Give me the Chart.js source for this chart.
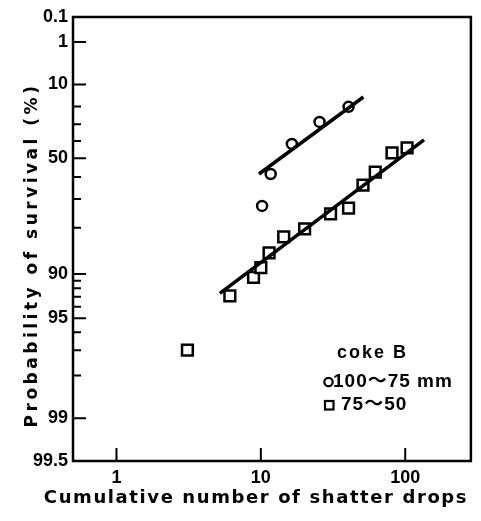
<!DOCTYPE html>
<html>
<head>
<meta charset="utf-8">
<script src="https://cdn.jsdelivr.net/npm/chart.js@4.4.1/dist/chart.umd.min.js"></script>
<style>
  html, body { margin: 0; padding: 0; background: #fff; }
  #wrap { width: 481px; height: 521px; position: relative; }
</style>
</head>
<body>
<div id="wrap"><canvas id="grafico"></canvas></div>
<script>
// eixo y (probabilidade de sobrevivencia, %)
const yMajor = [0.1, 1, 10, 50, 90, 95, 99, 99.5];
const yMinor = [20, 30, 40, 60, 70, 80, 91, 92, 93, 94, 96, 97, 98];
// eixo x (numero acumulado de quedas)
const xMajor = [1, 10, 100];

// coke B, 100~75 mm (circulos)
const largeDrops = [10.2, 11.7, 16.4, 25.5, 40.5];
const largeSurv = [72.7, 58.5, 41.7, 28.6, 20.2];
// coke B, 75~50 mm (quadrados)
const smallDrops = [3.1, 6.1, 8.9, 10, 11.4, 14.4, 20.1, 30.4, 40.5, 51, 62, 81, 103];
const smallSurv = [97.0, 92.9, 90.5, 89.0, 86.2, 82.5, 80.3, 75.6, 73.5, 63.9, 57.5, 47.0, 44.1];

// retas ajustadas (extremos)
const largeFitDrops = [9.7, 51.3];
const largeFitSurv = [58.5, 15.3];
const smallFitDrops = [5.2, 135];
const smallFitSurv = [92.6, 39.3];

// escala de Weibull: ln(ln(100/S))
function weib(s) {
  return Math.log(Math.log(100 / s));
}

function pontos(xs, ys) {
  return xs.map((x, i) => ({ x: x, y: weib(ys[i]) }));
}

const fonteNum = "'Liberation Sans', Arial, 'Noto Sans CJK JP', sans-serif";
const fonteTitulo = "'DejaVu Sans', 'Liberation Sans', sans-serif";

const molduraPlugin = {
  id: "moldura",
  afterDraw(chart) {
    const ctx = chart.ctx;
    const a = chart.chartArea;
    const xs = chart.scales.x;
    const ys = chart.scales.y;

    ctx.save();
    ctx.strokeStyle = "#000";
    ctx.lineWidth = 2.5;
    ctx.strokeRect(a.left, a.top, a.right - a.left, a.bottom - a.top);

    // marcas para dentro
    ctx.lineWidth = 2;
    ctx.beginPath();
    yMajor.forEach((p) => {
      const y = ys.getPixelForValue(weib(p));
      ctx.moveTo(a.left, y);
      ctx.lineTo(a.left + 13, y);
    });
    yMinor.forEach((p) => {
      const y = ys.getPixelForValue(weib(p));
      ctx.moveTo(a.left, y);
      ctx.lineTo(a.left + 8, y);
    });
    xMajor.forEach((v) => {
      const x = xs.getPixelForValue(v);
      ctx.moveTo(x, a.bottom);
      ctx.lineTo(x, a.bottom - 13);
    });
    ctx.stroke();

    // titulos dos eixos
    ctx.fillStyle = "#000";
    ctx.textAlign = "center";
    ctx.textBaseline = "middle";
    ctx.font = "bold 18px " + fonteTitulo;
    ctx.letterSpacing = "1.6px";
    ctx.fillText("Cumulative number of shatter drops", 256, 498);

    ctx.save();
    ctx.translate(33, 255);
    ctx.rotate(-Math.PI / 2);
    ctx.font = "bold 17px " + fonteTitulo;
    ctx.letterSpacing = "3.5px";
    ctx.fillText("Probability of survival (%)", 0, 0);
    ctx.restore();

    // legenda
    ctx.textAlign = "left";
    ctx.font = "bold 18px " + fonteNum;
    ctx.letterSpacing = "2px";
    ctx.fillText("coke B", 337, 353);

    ctx.letterSpacing = "1px";
    ctx.font = "bold 19px " + fonteNum;
    ctx.fillText("100～75 mm", 333, 382);
    ctx.fillText("75～50", 341, 405);

    ctx.lineWidth = 2.2;
    ctx.beginPath();
    ctx.arc(328.5, 382, 4.2, 0, Math.PI * 2);
    ctx.stroke();
    ctx.strokeRect(325, 401, 8.5, 8.5);
    ctx.restore();
  },
};

const ctx = document.getElementById("grafico");

new Chart(ctx, {
  type: "scatter",
  data: {
    datasets: [
      {
        label: "fit 100~75",
        data: pontos(largeFitDrops, largeFitSurv),
        showLine: true,
        borderColor: "#000",
        borderWidth: 3.5,
        pointRadius: 0,
      },
      {
        label: "fit 75~50",
        data: pontos(smallFitDrops, smallFitSurv),
        showLine: true,
        borderColor: "#000",
        borderWidth: 3.5,
        pointRadius: 0,
      },
      {
        label: "100～75 mm",
        data: pontos(largeDrops, largeSurv),
        pointStyle: "circle",
        pointRadius: 5,
        pointBorderWidth: 2.5,
        pointBorderColor: "#000",
        pointBackgroundColor: "#fff",
      },
      {
        label: "75～50",
        data: pontos(smallDrops, smallSurv),
        pointStyle: "rect",
        pointRadius: 7.6,
        pointBorderWidth: 2.5,
        pointBorderColor: "#000",
        pointBackgroundColor: "#fff",
      },
    ],
  },
  options: {
    responsive: true,
    maintainAspectRatio: false,
    animation: false,
    layout: { padding: { top: 17, right: 8, left: 0, bottom: 0 } },
    plugins: {
      legend: { display: false },
      tooltip: { enabled: false },
    },
    scales: {
      x: {
        type: "logarithmic",
        min: 0.5,
        max: 285,
        grid: { display: false, drawTicks: false },
        border: { display: false },
        afterBuildTicks: (scale) => {
          scale.ticks = xMajor.map((v) => ({ value: v }));
        },
        afterFit: (scale) => {
          scale.height = 60;
        },
        ticks: {
          autoSkip: false,
          maxRotation: 0,
          padding: 6,
          color: "#000",
          font: { family: fonteNum, size: 18, weight: "bold" },
          callback: (v) => String(v),
        },
      },
      y: {
        type: "linear",
        min: weib(99.5),
        max: weib(0.1),
        grid: { display: false, drawTicks: false },
        border: { display: false },
        afterBuildTicks: (scale) => {
          scale.ticks = yMajor.map((p) => ({ value: weib(p) }));
        },
        afterFit: (scale) => {
          scale.width = 73;
        },
        ticks: {
          autoSkip: false,
          padding: 5,
          color: "#000",
          font: { family: fonteNum, size: 18, weight: "bold" },
          callback: (v, i) => String(yMajor[i]),
        },
      },
    },
  },
  plugins: [molduraPlugin],
});
</script>
</body>
</html>
